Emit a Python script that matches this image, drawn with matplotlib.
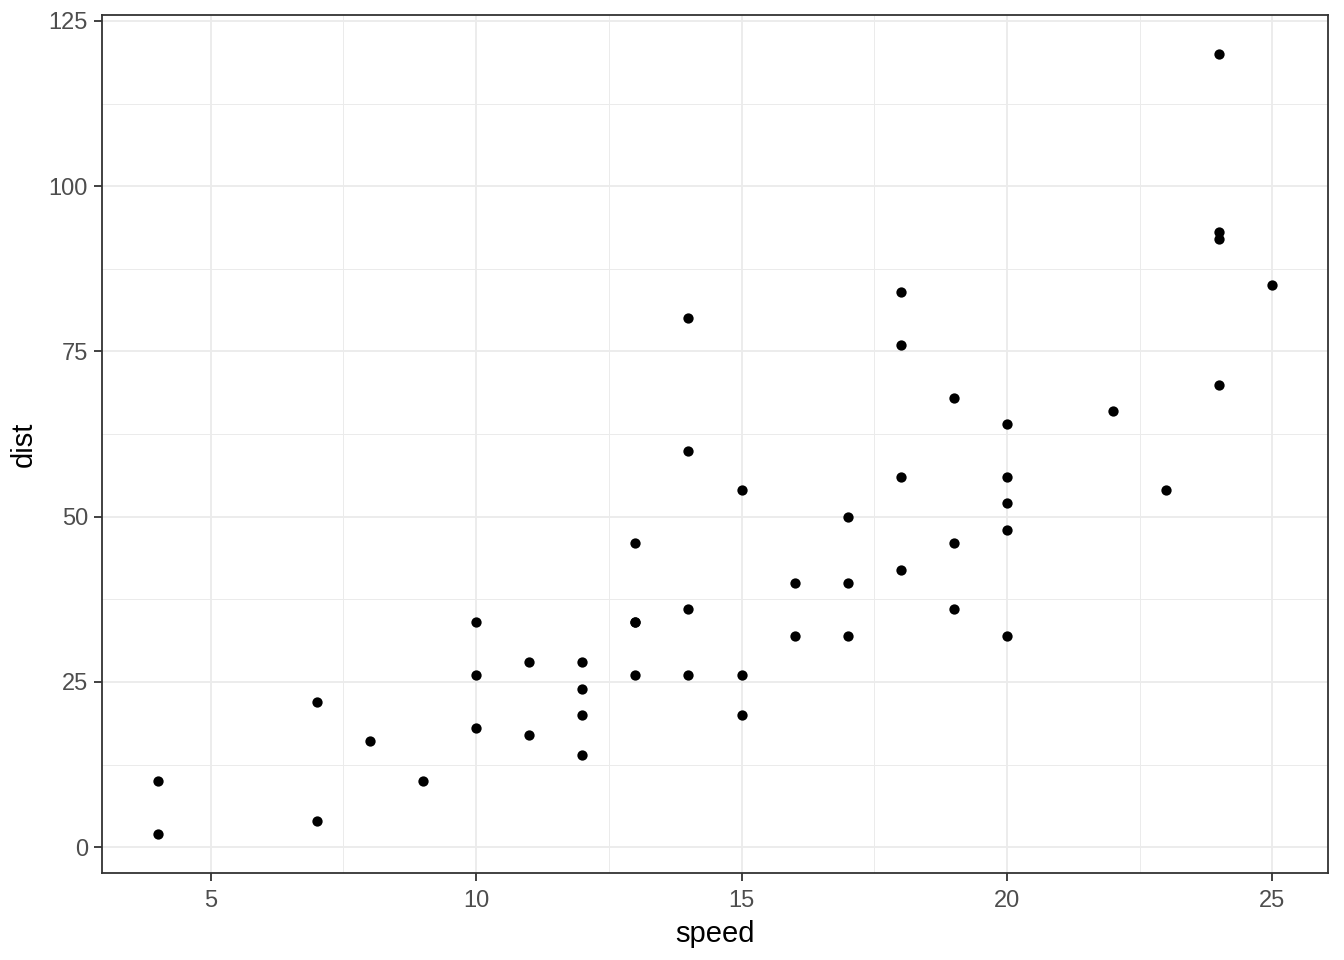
import matplotlib
matplotlib.use("Agg")
import matplotlib.pyplot as plt
from matplotlib.ticker import MultipleLocator

speed = [4, 4, 7, 7, 8, 9, 10, 10, 10, 11, 11, 12, 12, 12, 12, 13, 13, 13, 13, 14, 14, 14, 14,
         15, 15, 15, 16, 16, 17, 17, 17, 18, 18, 18, 18, 19, 19, 19, 20, 20, 20, 20, 20, 22, 23,
         24, 24, 24, 24, 25]
dist = [2, 10, 4, 22, 16, 10, 18, 26, 34, 17, 28, 14, 20, 24, 28, 26, 34, 34, 46, 26, 36, 60, 80,
        20, 26, 54, 32, 40, 32, 40, 50, 42, 56, 76, 84, 36, 46, 68, 32, 48, 52, 56, 64, 66, 54,
        70, 92, 93, 120, 85]

plt.rcParams['font.family'] = ['Liberation Sans', 'DejaVu Sans']

fig = plt.figure(figsize=(13.44, 9.6), dpi=100)
ax = fig.add_axes([102/1344, 1 - 873/960, (1328 - 102)/1344, (873 - 15)/960])

ax.scatter(speed, dist, s=55, color='black', linewidths=0, zorder=3)

xr = max(speed) - min(speed)
yr = max(dist) - min(dist)
ax.set_xlim(min(speed) - 0.05 * xr, max(speed) + 0.05 * xr)
ax.set_ylim(min(dist) - 0.05 * yr, max(dist) + 0.05 * yr)

ax.xaxis.set_major_locator(MultipleLocator(5))
ax.xaxis.set_minor_locator(MultipleLocator(2.5))
ax.yaxis.set_major_locator(MultipleLocator(25))
ax.yaxis.set_minor_locator(MultipleLocator(12.5))

ax.grid(which='major', color='#EBEBEB', linewidth=1.3, zorder=0)
ax.grid(which='minor', color='#EBEBEB', linewidth=0.7, zorder=0)
ax.set_axisbelow(True)

for sp in ax.spines.values():
    sp.set_color('#333333')
    sp.set_linewidth(1.3)

ax.tick_params(which='major', length=6, width=1.3, color='#333333', labelcolor='#4D4D4D',
               labelsize=17, pad=4)
ax.tick_params(axis='x', which='major', pad=6)
ax.tick_params(which='minor', length=0)

ax.set_xlabel('speed', fontsize=21, color='black', labelpad=6)
ax.set_ylabel('dist', fontsize=21, color='black', labelpad=8)

fig.savefig('out.png', dpi=100)
